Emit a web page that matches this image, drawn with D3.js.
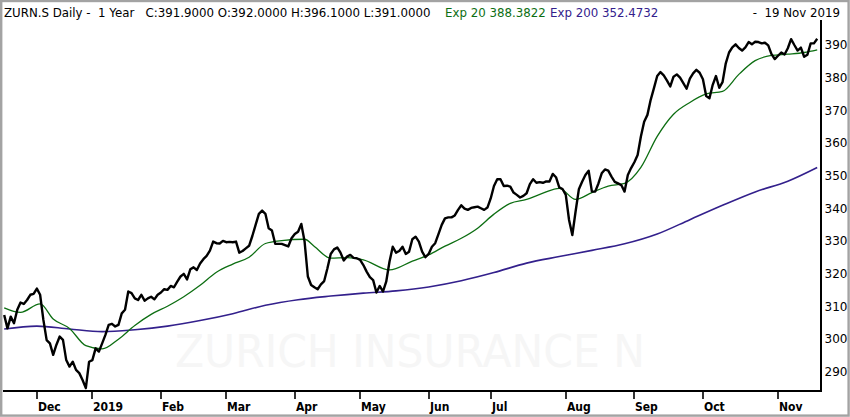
<!DOCTYPE html>
<html>
<head>
<meta charset="utf-8">
<script src="https://cdn.jsdelivr.net/npm/d3@7"></script>
<style>
  body { margin: 0; background: #fff; }
  svg { display: block; }
  .hdr { white-space: pre; }
</style>
</head>
<body>
<div id="chart"></div>
<script>
// daily closes, one per trading day, 19 Nov 2018 .. 19 Nov 2019
const closes = [
  307.3, 303.2, 306.8, 304.8, 308.9, 311.1, 310.7, 311.9, 313.5, 313.8,
  315.4, 313.5, 305.8, 299.6, 298.6, 295.1, 298.2, 300.7, 299.7, 293.5,
  291.5, 293.0, 290.5, 289.5, 287.4, 284.9, 293.0, 293.5, 297.1, 296.1,
  298.6, 301.2, 304.3, 304.6, 303.8, 304.3, 307.8, 308.9, 314.5, 314.0,
  312.4, 311.9, 313.5, 311.7, 312.4, 312.9, 312.1, 313.5, 314.2, 315.2,
  315.0, 316.2, 315.8, 317.5, 319.1, 319.9, 318.2, 321.3, 321.9, 321.1,
  323.1, 324.4, 325.4, 327.0, 329.8, 329.3, 329.2, 330.0, 329.6, 329.7,
  329.6, 329.8, 326.4, 326.9, 327.7, 328.5, 331.5, 334.9, 338.3, 339.3,
  338.3, 333.9, 333.2, 329.1, 329.1, 329.1, 328.7, 328.3, 330.8, 332.1,
  332.8, 335.2, 329.8, 319.1, 316.5, 315.8, 315.2, 316.7, 317.7, 321.6,
  326.0, 327.4, 328.0, 326.4, 324.0, 325.2, 325.7, 324.8, 324.7, 324.2,
  322.6, 320.6, 318.9, 318.0, 314.2, 316.2, 314.5, 317.5, 323.6, 328.2,
  326.4, 326.9, 328.2, 326.0, 326.7, 330.5, 331.3, 329.8, 326.7, 325.0,
  326.0, 328.2, 329.3, 332.1, 334.9, 336.9, 337.2, 337.2, 337.8, 339.5,
  340.9, 339.9, 339.5, 340.1, 340.3, 340.5, 340.0, 339.5, 340.2, 343.0,
  346.8, 348.9, 348.9, 346.8, 346.9, 346.6, 344.8, 344.1, 343.3, 343.8,
  344.6, 347.4, 348.9, 347.8, 348.0, 347.8, 348.2, 348.2, 350.5, 349.5,
  346.4, 345.9, 344.1, 336.4, 331.8, 339.0, 345.8, 348.1, 350.2, 351.5,
  345.1, 345.1, 347.6, 350.7, 351.9, 351.5, 349.7, 348.1, 347.6, 347.1,
  345.1, 350.2, 352.3, 354.1, 356.3, 362.0, 366.5, 368.6, 373.2, 376.8,
  380.5, 381.7, 380.7, 379.1, 377.3, 380.3, 381.0, 380.0, 378.3, 376.6,
  379.7, 381.3, 382.4, 381.5, 379.5, 374.4, 373.7, 377.8, 380.5, 376.9,
  378.6, 384.4, 387.7, 389.3, 390.2, 389.1, 388.3, 389.3, 390.9, 390.2,
  391.0, 390.9, 390.5, 390.7, 389.9, 387.2, 385.7, 386.7, 387.7, 387.1,
  389.0, 391.8, 390.0, 388.3, 389.2, 386.4, 387.0, 390.5, 390.5, 391.9
];

// Exp 20, read at a handful of trading days
const ema20Days = [0, 5, 11, 15, 20, 25, 30, 35, 40, 45, 50, 55, 60, 65, 70, 75, 80, 85, 92, 95,
  100, 105, 110, 118, 125, 130, 135, 140, 145, 150, 155, 160, 165, 170, 175, 180, 185, 190, 195,
  200, 205, 210, 215, 220, 225, 230, 235, 240, 245, 249];
const ema20 = [309.5, 308.1, 310.7, 306.1, 303.2, 297.9, 296.9, 299.9, 304.1, 307.5, 310.0, 312.9,
  316.4, 320.4, 322.9, 325.0, 329.2, 330.1, 330.5, 328.3, 324.7, 324.9, 324.2, 321.1, 323.8, 325.7,
  328.4, 330.8, 333.9, 338.2, 341.5, 342.7, 344.6, 346.1, 342.7, 344.8, 346.8, 347.6, 352.5, 362.0,
  368.8, 372.4, 375.0, 375.8, 381.0, 385.2, 386.8, 387.2, 387.7, 388.5];

// Exp 200
const ema200Days = [0, 10, 20, 30, 40, 50, 60, 70, 80, 90, 100, 110, 120, 130, 140, 150, 160, 170,
  180, 190, 200, 210, 220, 230, 240, 249];
const ema200 = [303.0, 303.9, 303.0, 302.2, 302.8, 303.9, 305.6, 307.7, 310.3, 312.0, 313.1, 314.0,
  314.7, 315.9, 317.8, 320.3, 323.2, 325.2, 327.1, 329.1, 332.1, 336.5, 340.9, 345.0, 348.3, 352.5];

// first trading day of each month
const monthDays = [10, 27, 48, 68, 89, 109, 130, 149, 172, 193, 214, 237];
const monthLabels = ["Dec", "2019", "Feb", "Mar", "Apr", "May", "Jun", "Jul", "Aug", "Sep", "Oct", "Nov"];
const priceTicks = [290, 300, 310, 320, 330, 340, 350, 360, 370, 380, 390];

const headerMain = "ZURN.S Daily -  1 Year   C:391.9000 O:392.0000 H:396.1000 L:391.0000";
const headerEma20 = "Exp 20 388.3822";
const headerEma200 = "Exp 200 352.4732";
const headerDate = "-  19 Nov 2019";
const watermark = "ZURICH INSURANCE N";

let svgWidth = 850,
    svgHeight = 417;
let plot = {left: 3, top: 20, right: 821, bottom: 391};
const green = "#0d6e12",
    purple = "#33208c";

let x = d3.scaleLinear().domain([0, closes.length - 1]).range([4.2, 817.2]);
let y = d3.scaleLinear().domain([290, 390]).range([371.5, 45]);

let svg = d3.select("#chart").append("svg")
    .attr("width", svgWidth)
    .attr("height", svgHeight);

//outer frame
svg.append("rect")
    .attr("x", 1.2).attr("y", 1)
    .attr("width", svgWidth - 2.6).attr("height", svgHeight - 2.4)
    .attr("fill", "none")
    .attr("stroke", "#a3a3a3")
    .attr("stroke-width", 2.4);

//watermark
svg.append("text")
    .attr("x", 410).attr("y", 367)
    .attr("text-anchor", "middle")
    .attr("textLength", 470)
    .attr("lengthAdjust", "spacingAndGlyphs")
    .style("font-family", "DejaVu Sans")
    .style("font-size", "44px")
    .attr("fill", "#f6f6f6")
    .text(watermark);

//header, keeping the runs of spaces
let header = svg.append("g")
    .style("font-family", "DejaVu Sans")
    .style("font-size", "11.8px");
[
    {text: headerMain, x: 4, color: "#000", anchor: "start"},
    {text: headerEma20, x: 445, color: green, anchor: "start"},
    {text: headerEma200, x: 550, color: purple, anchor: "start"},
    {text: headerDate, x: 840, color: "#000", anchor: "end"}
].forEach(h => {
    header.append("text")
        .attr("class", "hdr")
        .attr("xml:space", "preserve")
        .attr("x", h.x).attr("y", 16.5)
        .attr("text-anchor", h.anchor)
        .attr("fill", h.color)
        .text(h.text);
});

let line = d3.line().curve(d3.curveMonotoneX);

//moving averages
svg.append("path")
    .attr("fill", "none")
    .attr("stroke", purple)
    .attr("stroke-width", 1.6)
    .attr("d", line(ema200Days.map((d, i) => [x(d), y(ema200[i])])));

svg.append("path")
    .attr("fill", "none")
    .attr("stroke", green)
    .attr("stroke-width", 1.3)
    .attr("d", line(ema20Days.map((d, i) => [x(d), y(ema20[i])])));

//close line
svg.append("path")
    .attr("fill", "none")
    .attr("stroke", "#000")
    .attr("stroke-width", 2.4)
    .attr("stroke-linejoin", "round")
    .attr("d", d3.line()(closes.map((c, i) => [x(i), y(c)])));

//axes
svg.append("line")
    .attr("x1", plot.left).attr("x2", plot.right)
    .attr("y1", plot.bottom).attr("y2", plot.bottom)
    .attr("stroke", "#000").attr("stroke-width", 2);
svg.append("line")
    .attr("x1", plot.right).attr("x2", plot.right)
    .attr("y1", plot.top).attr("y2", plot.bottom + 1)
    .attr("stroke", "#000").attr("stroke-width", 2);

let xTicks = svg.append("g")
    .selectAll("g")
    .data(monthDays)
    .enter().append("g")
    .attr("transform", d => `translate(${Math.round(x(d))}, ${plot.bottom})`);
xTicks.append("line")
    .attr("y1", 0).attr("y2", 8)
    .attr("stroke", "#000").attr("stroke-width", 1.6);
xTicks.append("text")
    .attr("x", 1).attr("y", 20)
    .style("font-family", "DejaVu Sans Condensed")
    .style("font-weight", "bold")
    .style("font-size", "12px")
    .text((d, i) => monthLabels[i]);

svg.append("g")
    .selectAll("text")
    .data(priceTicks)
    .enter().append("text")
    .attr("x", plot.right + 3.5)
    .attr("y", d => y(d))
    .attr("dy", "0.36em")
    .style("font-family", "DejaVu Sans")
    .style("font-size", "12px")
    .text(String);
</script>
</body>
</html>
